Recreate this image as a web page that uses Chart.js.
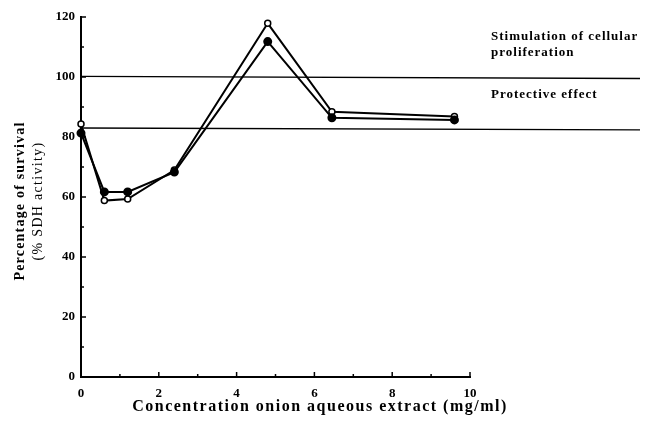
<!DOCTYPE html>
<html>
<head>
<meta charset="utf-8">
<script src="https://cdn.jsdelivr.net/npm/chart.js@4"></script>
<style>
  body { margin: 0; background: #fff; }
  #wrap { width: 645px; height: 437px; }
</style>
</head>
<body>
<div id="wrap"><canvas id="chart"></canvas></div>
<script>
// values
const concentrations = [0, 0.6, 1.2, 2.4, 4.8, 6.45, 9.6];
const openSeries = [84.3, 58.8, 59.3, 69, 117.9, 88.4, 86.8];
const filledSeries = [81.3, 61.7, 61.7, 68.3, 111.8, 86.4, 85.7];
// reference lines (value at left end, value at right end)
const stimulationLine = [100.2, 99.5];
const protectiveLine = [83, 82.4];
const yTitleLines = ['Percentage of survival', '(% SDH activity)'];
const xTitle = 'Concentration onion aqueous extract (mg/ml)';
const stimulationLabel = ['Stimulation of cellular', 'proliferation'];
const protectiveLabel = 'Protective effect';

const serif = '"Liberation Serif", "DejaVu Serif", serif';

const toPoints = ys => concentrations.map((x, i) => ({ x: x, y: ys[i] }));

// inward ticks, reference lines and text
const extras = {
    id: 'extras',
    afterDatasetsDraw(chart) {
        const ctx = chart.ctx;
        const xs = chart.scales.x, ys = chart.scales.y;
        const area = chart.chartArea;
        ctx.save();
        ctx.strokeStyle = '#000';
        ctx.lineWidth = 1.5;
        // y ticks pointing right
        ys.ticks.forEach(t => {
            const py = ys.getPixelForValue(t.value);
            const len = t.value % 20 === 0 ? 5 : 3;
            ctx.beginPath();
            ctx.moveTo(area.left, py);
            ctx.lineTo(area.left + len, py);
            ctx.stroke();
        });
        // x ticks pointing up
        xs.ticks.forEach(t => {
            const px = xs.getPixelForValue(t.value);
            const len = t.value % 2 === 0 ? 5 : 3;
            ctx.beginPath();
            ctx.moveTo(px, area.bottom);
            ctx.lineTo(px, area.bottom - len);
            ctx.stroke();
        });
        // horizontal reference lines running past the plot
        const rightEnd = chart.width - 5;
        [stimulationLine, protectiveLine].forEach(v => {
            ctx.beginPath();
            ctx.lineWidth = 1.3;
            ctx.moveTo(area.left, ys.getPixelForValue(v[0]));
            ctx.lineTo(rightEnd, ys.getPixelForValue(v[1]));
            ctx.stroke();
        });
        // right-hand labels
        ctx.fillStyle = '#000';
        ctx.font = 'bold 13px ' + serif;
        ctx.letterSpacing = '1px';
        ctx.textAlign = 'left';
        ctx.textBaseline = 'middle';
        ctx.fillText(stimulationLabel[0], 491, 37);
        ctx.fillText(stimulationLabel[1], 491, 53);
        ctx.fillText(protectiveLabel, 491, 95);
        // x axis title
        ctx.textAlign = 'center';
        ctx.font = 'bold 16px ' + serif;
        ctx.letterSpacing = '1.5px';
        ctx.fillText(xTitle, 320, 407);
        // y axis title, two lines
        ctx.translate(20, 201);
        ctx.rotate(-Math.PI / 2);
        ctx.font = 'bold 14px ' + serif;
        ctx.letterSpacing = '1.2px';
        ctx.fillText(yTitleLines[0], 0, 0);
        ctx.font = '14px ' + serif;
        ctx.letterSpacing = '1.3px';
        ctx.fillText(yTitleLines[1], 0, 18);
        ctx.restore();
    }
};

new Chart(document.getElementById('chart'), {
    type: 'line',
    data: {
        datasets: [
            {
                label: 'filled',
                data: toPoints(filledSeries),
                borderColor: '#000',
                borderWidth: 2,
                pointBackgroundColor: '#000',
                pointBorderColor: '#000',
                pointRadius: 3.5,
                tension: 0,
                clip: false
            },
            {
                label: 'open',
                data: toPoints(openSeries),
                borderColor: '#000',
                borderWidth: 2,
                pointBackgroundColor: '#fff',
                pointBorderColor: '#000',
                pointBorderWidth: 1.5,
                pointRadius: 3,
                tension: 0,
                clip: false
            }
        ]
    },
    options: {
        responsive: true,
        maintainAspectRatio: false,
        animation: false,
        layout: { padding: { left: 0, right: 175, top: 17, bottom: 0 } },
        plugins: {
            legend: { display: false },
            tooltip: { enabled: false }
        },
        scales: {
            x: {
                type: 'linear',
                min: 0,
                max: 10,
                ticks: {
                    stepSize: 1,
                    padding: 9,
                    color: '#000',
                    font: { family: serif, size: 13, weight: 'bold' },
                    callback: v => (v % 2 === 0 ? v : '')
                },
                grid: { display: true, drawOnChartArea: false, drawTicks: false },
                border: { display: true, color: '#000', width: 2 },
                afterFit: s => { s.height = 60; }
            },
            y: {
                min: 0,
                max: 120,
                ticks: {
                    stepSize: 10,
                    padding: 6,
                    color: '#000',
                    font: { family: serif, size: 13, weight: 'bold' },
                    callback: v => (v % 20 === 0 ? v : '')
                },
                grid: { display: true, drawOnChartArea: false, drawTicks: false },
                border: { display: true, color: '#000', width: 2 },
                afterFit: s => { s.width = 81; }
            }
        }
    },
    plugins: [extras]
});
</script>
</body>
</html>
